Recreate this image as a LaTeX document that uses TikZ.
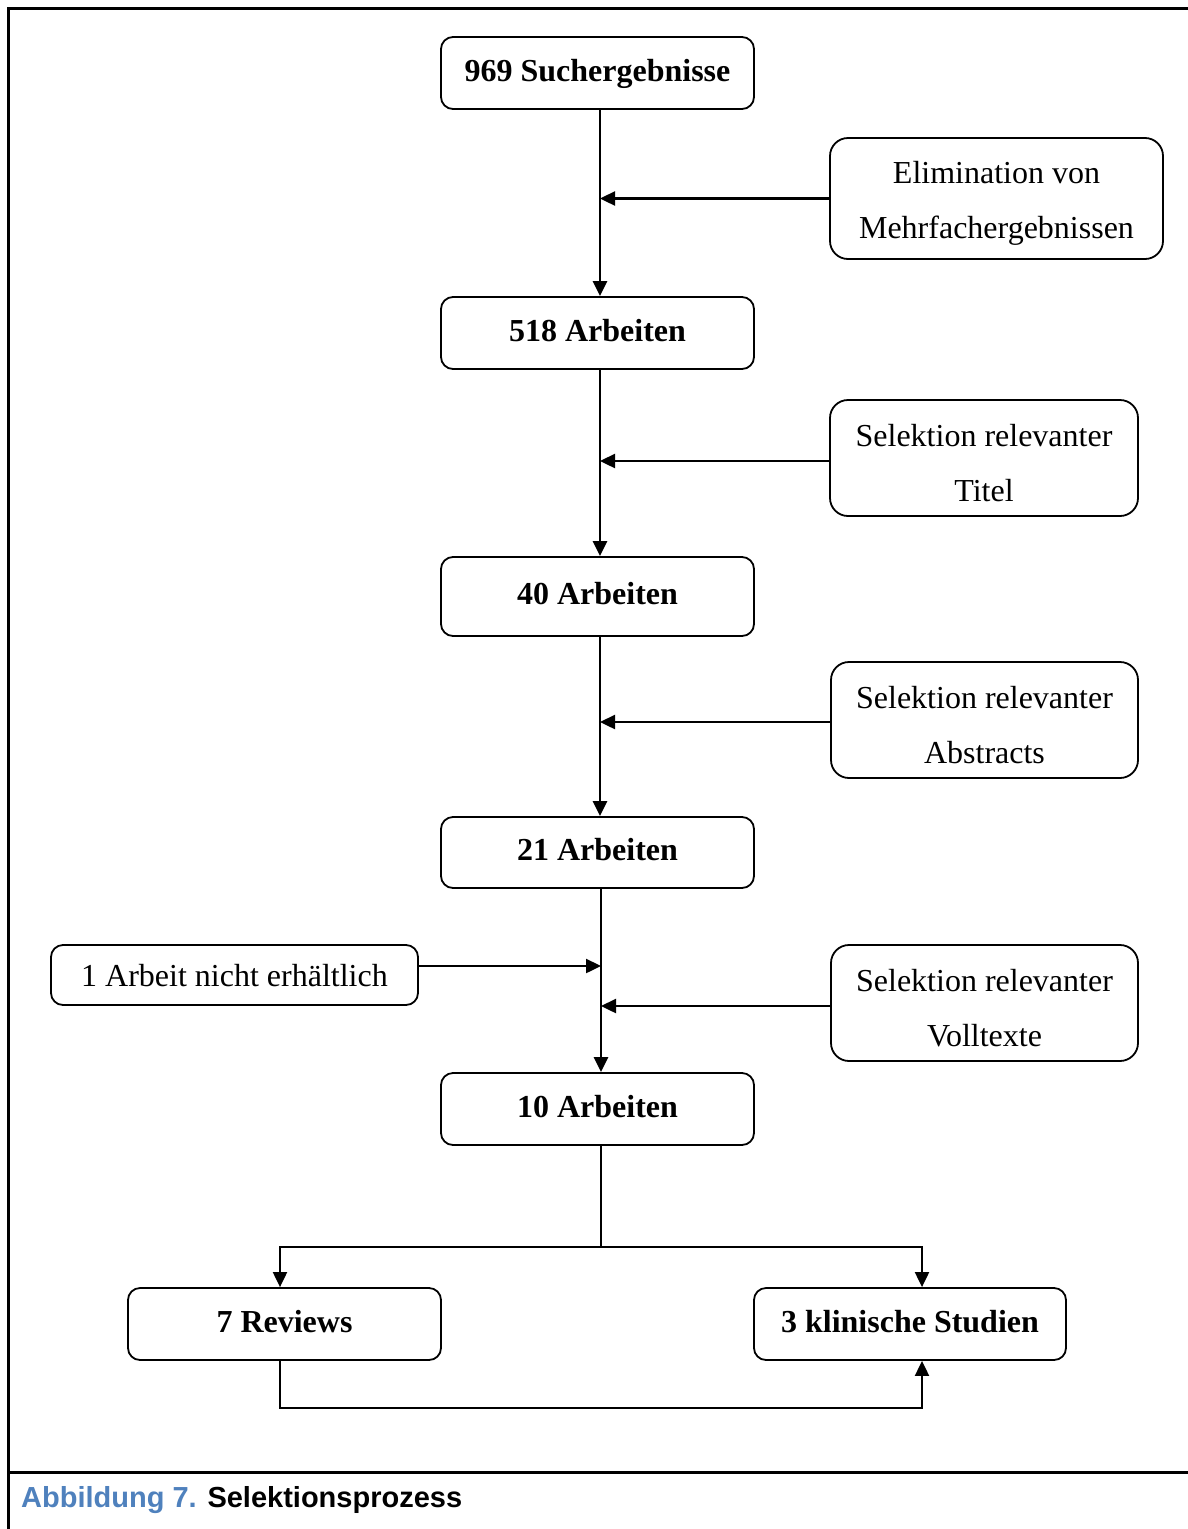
\documentclass[tikz,border=0pt]{standalone}
\usepackage{fontspec}
\setmainfont{Liberation Serif}
\newfontfamily\capfont{Liberation Sans}
\usetikzlibrary{arrows.meta}
\definecolor{capblue}{HTML}{4F81BD}
\newcommand{\nstrut}{\rule{0pt}{32pt}}
\begin{document}
\begin{tikzpicture}[x=1pt,y=-1pt,
  mainbox/.style={draw, line width=1.8pt, rounded corners=12pt, minimum width=313pt, minimum height=72pt, inner sep=0pt, font=\fontsize{32}{38}\selectfont\bfseries, text depth=6pt},
  notebox/.style={draw, line width=1.8pt, rounded corners=18pt, inner sep=0pt, align=center, font=\fontsize{32}{55}\selectfont},
  arr/.style={line width=2.4pt, -{Triangle[length=15pt,width=14pt]}},
  thinarr/.style={line width=2pt, -{Triangle[length=15pt,width=14pt]}},
  frame/.style={line width=3pt}]
\useasboundingbox (0,0) rectangle (1187,1529);
% frame
\draw[frame] (8.5,1529) -- (8.5,8.5) -- (1190,8.5);
\draw[frame] (8.5,1472) -- (1190,1472);
% guide coordinates
\coordinate (vx) at (600,0);
\coordinate (xs) at (601,0);
\coordinate (xr) at (280,0);
\coordinate (xk) at (922,0);
\coordinate (yb) at (0,1247);
\coordinate (yl) at (0,1408);
% main boxes
\node[mainbox] (b1) at (597.5,73) {969 Suchergebnisse};
\node[mainbox] (b2) at (597.5,333) {518 Arbeiten};
\node[mainbox, minimum height=79pt] (b3) at (597.5,596.5) {40 Arbeiten};
\node[mainbox, minimum height=71pt] (b4) at (597.5,852.5) {21 Arbeiten};
\node[mainbox] (b5) at (597.5,1109) {10 Arbeiten};
\node[mainbox] (r) at (284.5,1324) {7 Reviews};
\node[mainbox, minimum width=312pt] (k) at (910,1324) {3 klinische Studien};
% side boxes
\node[notebox, minimum width=333pt, minimum height=121pt] (e1) at (996.5,198.5) {\nstrut Elimination von\\Mehrfachergebnissen};
\node[notebox, minimum width=308pt, minimum height=116pt] (e2) at (984,458) {\nstrut Selektion relevanter\\Titel};
\node[notebox, minimum width=307pt, minimum height=116pt] (e3) at (984.5,720) {\nstrut Selektion relevanter\\Abstracts};
\node[notebox, minimum width=307pt, minimum height=116pt] (e4) at (984.5,1003) {\nstrut Selektion relevanter\\Volltexte};
\node[notebox, rounded corners=12pt, minimum width=367pt, minimum height=60pt, text depth=0pt] (l) at (234.5,975) {1 Arbeit nicht erhältlich};
% vertical flow
\draw[arr] (b1.south -| vx) -- (b2.north -| vx);
\draw[arr] (b2.south -| vx) -- (b3.north -| vx);
\draw[arr] (b3.south -| vx) -- (b4.north -| vx);
\draw[arr] (b4.south -| xs) -- (b5.north -| xs);
% side arrows
\draw[arr] (e1.west) -- (e1.west -| vx);
\draw[arr] ([yshift=-3pt]e2.west) -- ([yshift=-3pt]e2.west -| vx);
\draw[arr] ([yshift=-2pt]e3.west) -- ([yshift=-2pt]e3.west -| vx);
\draw[arr] ([yshift=-3pt]e4.west) -- ([yshift=-3pt]e4.west -| xs);
\draw[arr] ([yshift=9pt]l.east) -- ([yshift=9pt]l.east -| xs);
% split
\draw[line width=2pt] (b5.south -| xs) -- (xs |- yb);
\draw[thinarr] (xs |- yb) -| (r.north -| xr);
\draw[thinarr] (xs |- yb) -| (k.north -| xk);
\draw[thinarr] (r.south -| xr) -- (xr |- yl) -- (xk |- yl) -- (k.south -| xk);
% caption
\node[anchor=base west, inner sep=0pt, font=\capfont\fontsize{29}{34}\selectfont\bfseries] (cap) at (21,1507) {\textcolor{capblue}{Abbildung 7.} Selektionsprozess};
\end{tikzpicture}
\end{document}
